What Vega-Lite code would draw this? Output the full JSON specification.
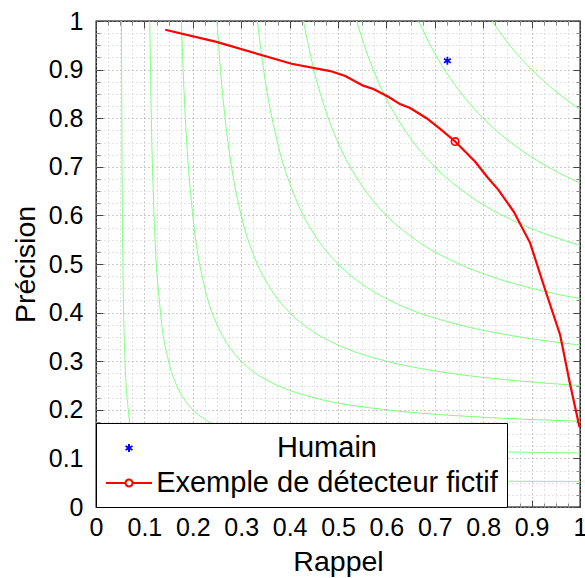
{
  "$schema": "https://vega.github.io/schema/vega-lite/v6.json",
  "autosize": "none",
  "width": 484,
  "height": 486,
  "padding": {"left": 96, "top": 21, "right": 5, "bottom": 71},
  "background": "white",
  "config": {
    "view": {"stroke": "black", "strokeWidth": 1.3},
    "font": "Liberation Sans"
  },
  "datasets": {
    "iso": [
      {"F": 0.1, "R": 0.05263, "P": 1}, {"F": 0.1, "R": 0.05385, "P": 0.7}, {"F": 0.1, "R": 0.05556, "P": 0.5}, {"F": 0.1, "R": 0.06, "P": 0.3}, {"F": 0.1, "R": 0.06667, "P": 0.2}, {"F": 0.1, "R": 0.075, "P": 0.15}, {"F": 0.1, "R": 0.08333, "P": 0.125}, {"F": 0.1, "R": 0.09167, "P": 0.11}, {"F": 0.1, "R": 0.1, "P": 0.1}, {"F": 0.1, "R": 0.11, "P": 0.09167}, {"F": 0.1, "R": 0.125, "P": 0.08333}, {"F": 0.1, "R": 0.15, "P": 0.075}, {"F": 0.1, "R": 0.2, "P": 0.06667}, {"F": 0.1, "R": 0.3, "P": 0.06}, {"F": 0.1, "R": 0.5, "P": 0.05556}, {"F": 0.1, "R": 0.7, "P": 0.05385}, {"F": 0.1, "R": 1, "P": 0.05263},
      {"F": 0.2, "R": 0.11111, "P": 1}, {"F": 0.2, "R": 0.11429, "P": 0.8}, {"F": 0.2, "R": 0.12, "P": 0.6}, {"F": 0.2, "R": 0.13333, "P": 0.4}, {"F": 0.2, "R": 0.15, "P": 0.3}, {"F": 0.2, "R": 0.16667, "P": 0.25}, {"F": 0.2, "R": 0.18333, "P": 0.22}, {"F": 0.2, "R": 0.2, "P": 0.2}, {"F": 0.2, "R": 0.22, "P": 0.18333}, {"F": 0.2, "R": 0.25, "P": 0.16667}, {"F": 0.2, "R": 0.3, "P": 0.15}, {"F": 0.2, "R": 0.4, "P": 0.13333}, {"F": 0.2, "R": 0.6, "P": 0.12}, {"F": 0.2, "R": 0.8, "P": 0.11429}, {"F": 0.2, "R": 1, "P": 0.11111},
      {"F": 0.3, "R": 0.17647, "P": 1}, {"F": 0.3, "R": 0.18, "P": 0.9}, {"F": 0.3, "R": 0.1875, "P": 0.75}, {"F": 0.3, "R": 0.2, "P": 0.6}, {"F": 0.3, "R": 0.225, "P": 0.45}, {"F": 0.3, "R": 0.25, "P": 0.375}, {"F": 0.3, "R": 0.275, "P": 0.33}, {"F": 0.3, "R": 0.3, "P": 0.3}, {"F": 0.3, "R": 0.33, "P": 0.275}, {"F": 0.3, "R": 0.375, "P": 0.25}, {"F": 0.3, "R": 0.45, "P": 0.225}, {"F": 0.3, "R": 0.6, "P": 0.2}, {"F": 0.3, "R": 0.75, "P": 0.1875}, {"F": 0.3, "R": 0.9, "P": 0.18}, {"F": 0.3, "R": 1, "P": 0.17647},
      {"F": 0.4, "R": 0.25, "P": 1}, {"F": 0.4, "R": 0.25714, "P": 0.9}, {"F": 0.4, "R": 0.26667, "P": 0.8}, {"F": 0.4, "R": 0.28, "P": 0.7}, {"F": 0.4, "R": 0.3, "P": 0.6}, {"F": 0.4, "R": 0.33333, "P": 0.5}, {"F": 0.4, "R": 0.36667, "P": 0.44}, {"F": 0.4, "R": 0.4, "P": 0.4}, {"F": 0.4, "R": 0.44, "P": 0.36667}, {"F": 0.4, "R": 0.5, "P": 0.33333}, {"F": 0.4, "R": 0.6, "P": 0.3}, {"F": 0.4, "R": 0.7, "P": 0.28}, {"F": 0.4, "R": 0.8, "P": 0.26667}, {"F": 0.4, "R": 0.9, "P": 0.25714}, {"F": 0.4, "R": 1, "P": 0.25},
      {"F": 0.5, "R": 0.33333, "P": 1}, {"F": 0.5, "R": 0.35, "P": 0.875}, {"F": 0.5, "R": 0.375, "P": 0.75}, {"F": 0.5, "R": 0.41667, "P": 0.625}, {"F": 0.5, "R": 0.45833, "P": 0.55}, {"F": 0.5, "R": 0.5, "P": 0.5}, {"F": 0.5, "R": 0.55, "P": 0.45833}, {"F": 0.5, "R": 0.625, "P": 0.41667}, {"F": 0.5, "R": 0.75, "P": 0.375}, {"F": 0.5, "R": 0.875, "P": 0.35}, {"F": 0.5, "R": 1, "P": 0.33333},
      {"F": 0.6, "R": 0.42857, "P": 1}, {"F": 0.6, "R": 0.45, "P": 0.9}, {"F": 0.6, "R": 0.47143, "P": 0.825}, {"F": 0.6, "R": 0.5, "P": 0.75}, {"F": 0.6, "R": 0.55, "P": 0.66}, {"F": 0.6, "R": 0.6, "P": 0.6}, {"F": 0.6, "R": 0.66, "P": 0.55}, {"F": 0.6, "R": 0.75, "P": 0.5}, {"F": 0.6, "R": 0.825, "P": 0.47143}, {"F": 0.6, "R": 0.9, "P": 0.45}, {"F": 0.6, "R": 1, "P": 0.42857},
      {"F": 0.7, "R": 0.53846, "P": 1}, {"F": 0.7, "R": 0.55763, "P": 0.94}, {"F": 0.7, "R": 0.58333, "P": 0.875}, {"F": 0.7, "R": 0.64167, "P": 0.77}, {"F": 0.7, "R": 0.7, "P": 0.7}, {"F": 0.7, "R": 0.77, "P": 0.64167}, {"F": 0.7, "R": 0.875, "P": 0.58333}, {"F": 0.7, "R": 0.94, "P": 0.55763}, {"F": 0.7, "R": 1, "P": 0.53846},
      {"F": 0.8, "R": 0.66667, "P": 1}, {"F": 0.8, "R": 0.6963, "P": 0.94}, {"F": 0.8, "R": 0.73333, "P": 0.88}, {"F": 0.8, "R": 0.76364, "P": 0.84}, {"F": 0.8, "R": 0.8, "P": 0.8}, {"F": 0.8, "R": 0.84, "P": 0.76364}, {"F": 0.8, "R": 0.88, "P": 0.73333}, {"F": 0.8, "R": 0.94, "P": 0.6963}, {"F": 0.8, "R": 1, "P": 0.66667},
      {"F": 0.9, "R": 0.81818, "P": 1}, {"F": 0.9, "R": 0.84706, "P": 0.96}, {"F": 0.9, "R": 0.87188, "P": 0.93}, {"F": 0.9, "R": 0.9, "P": 0.9}, {"F": 0.9, "R": 0.93, "P": 0.87188}, {"F": 0.9, "R": 0.96, "P": 0.84706}, {"F": 0.9, "R": 1, "P": 0.81818}
    ],
    "det": [
      {"R": 0.143, "P": 0.982}, {"R": 0.249, "P": 0.957}, {"R": 0.404, "P": 0.912}, {"R": 0.484, "P": 0.897}, {"R": 0.515, "P": 0.887}, {"R": 0.552, "P": 0.867}, {"R": 0.573, "P": 0.86}, {"R": 0.604, "P": 0.844}, {"R": 0.628, "P": 0.829}, {"R": 0.649, "P": 0.821}, {"R": 0.683, "P": 0.8}, {"R": 0.711, "P": 0.778}, {"R": 0.742, "P": 0.752}, {"R": 0.783, "P": 0.711}, {"R": 0.81, "P": 0.677}, {"R": 0.831, "P": 0.653}, {"R": 0.863, "P": 0.608}, {"R": 0.897, "P": 0.543}, {"R": 0.928, "P": 0.447}, {"R": 0.959, "P": 0.354}, {"R": 0.979, "P": 0.255}, {"R": 0.999, "P": 0.164}
    ],
    "humain": [{"R": 0.726, "P": 0.918}],
    "marqueur": [{"R": 0.742, "P": 0.752}],
    "series": [{"serie": "Humain"}, {"serie": "Exemple de détecteur fictif"}]
  },
  "layer": [
    {
      "data": {"name": "iso"},
      "mark": {"type": "line", "color": "#7fff7f", "strokeWidth": 1, "interpolate": "monotone"},
      "encoding": {
        "x": {
          "field": "R", "type": "quantitative",
          "scale": {"domain": [0, 1], "nice": false, "zero": false},
          "axis": {
            "orient": "bottom",
            "values": [0,0.025,0.05,0.075,0.1,0.125,0.15,0.175,0.2,0.225,0.25,0.275,0.3,0.325,0.35,0.375,0.4,0.425,0.45,0.475,0.5,0.525,0.55,0.575,0.6,0.625,0.65,0.675,0.7,0.725,0.75,0.775,0.8,0.825,0.85,0.875,0.9,0.925,0.95,0.975,1],
            "labelExpr": "abs(datum.value*10-round(datum.value*10))<0.001 ? format(datum.value,'.1~f') : ''",
            "labelFont": "Liberation Sans", "labelFontSize": 25, "labelColor": "black",
            "labelPadding": 15, "labelOverlap": false, "labelFlush": false, "labelBound": false,
            "tickSize": {"condition": {"test": "abs(datum.value*10-round(datum.value*10))<0.001", "value": -7}, "value": -4},
            "tickColor": {"condition": {"test": "abs(datum.value*10-round(datum.value*10))<0.001", "value": "#444444"}, "value": "#8a8a8a"},
            "tickWidth": 1,
            "grid": true, "gridDash": [1, 3], "gridWidth": 1,
            "gridColor": {"condition": {"test": "abs(datum.value*10-round(datum.value*10))<0.001", "value": "#9a9a9a"}, "value": "#c8c8c8"},
            "domain": false,
            "title": "Rappel", "titleFont": "Liberation Sans", "titleFontSize": 28.5, "titleFontWeight": "normal", "titleColor": "black", "titlePadding": 4,
            "zindex": 0
          }
        },
        "y": {
          "field": "P", "type": "quantitative",
          "scale": {"domain": [0, 1], "nice": false, "zero": false},
          "axis": {
            "orient": "left",
            "values": [0,0.025,0.05,0.075,0.1,0.125,0.15,0.175,0.2,0.225,0.25,0.275,0.3,0.325,0.35,0.375,0.4,0.425,0.45,0.475,0.5,0.525,0.55,0.575,0.6,0.625,0.65,0.675,0.7,0.725,0.75,0.775,0.8,0.825,0.85,0.875,0.9,0.925,0.95,0.975,1],
            "labelExpr": "abs(datum.value*10-round(datum.value*10))<0.001 ? format(datum.value,'.1~f') : ''",
            "labelFont": "Liberation Sans", "labelFontSize": 25, "labelColor": "black",
            "labelPadding": 20, "labelOverlap": false, "labelFlush": false, "labelBound": false,
            "tickSize": {"condition": {"test": "abs(datum.value*10-round(datum.value*10))<0.001", "value": -7}, "value": -4},
            "tickColor": {"condition": {"test": "abs(datum.value*10-round(datum.value*10))<0.001", "value": "#444444"}, "value": "#8a8a8a"},
            "tickWidth": 1,
            "grid": true, "gridDash": [1, 3], "gridWidth": 1,
            "gridColor": {"condition": {"test": "abs(datum.value*10-round(datum.value*10))<0.001", "value": "#9a9a9a"}, "value": "#c8c8c8"},
            "domain": false,
            "title": "Précision", "titleFont": "Liberation Sans", "titleFontSize": 28.5, "titleFontWeight": "normal", "titleColor": "black", "titlePadding": 8,
            "zindex": 0
          }
        },
        "detail": {"field": "F", "type": "nominal"}
      }
    },
    {
      "data": {"name": "det"},
      "mark": {"type": "line", "color": "#ff0000", "strokeWidth": 2.2},
      "encoding": {
        "x": {
          "field": "R", "type": "quantitative",
          "scale": {"domain": [0, 1], "nice": false, "zero": false},
          "axis": {
            "orient": "top",
            "values": [0,0.025,0.05,0.075,0.1,0.125,0.15,0.175,0.2,0.225,0.25,0.275,0.3,0.325,0.35,0.375,0.4,0.425,0.45,0.475,0.5,0.525,0.55,0.575,0.6,0.625,0.65,0.675,0.7,0.725,0.75,0.775,0.8,0.825,0.85,0.875,0.9,0.925,0.95,0.975,1],
            "labels": false, "grid": false, "domain": false, "title": null,
            "tickSize": {"condition": {"test": "abs(datum.value*10-round(datum.value*10))<0.001", "value": -7}, "value": -4},
            "tickColor": {"condition": {"test": "abs(datum.value*10-round(datum.value*10))<0.001", "value": "#444444"}, "value": "#8a8a8a"},
            "tickWidth": 1, "zindex": 0
          }
        },
        "y": {
          "field": "P", "type": "quantitative",
          "scale": {"domain": [0, 1], "nice": false, "zero": false},
          "axis": {
            "orient": "right",
            "values": [0,0.025,0.05,0.075,0.1,0.125,0.15,0.175,0.2,0.225,0.25,0.275,0.3,0.325,0.35,0.375,0.4,0.425,0.45,0.475,0.5,0.525,0.55,0.575,0.6,0.625,0.65,0.675,0.7,0.725,0.75,0.775,0.8,0.825,0.85,0.875,0.9,0.925,0.95,0.975,1],
            "labels": false, "grid": false, "domain": false, "title": null,
            "tickSize": {"condition": {"test": "abs(datum.value*10-round(datum.value*10))<0.001", "value": -7}, "value": -4},
            "tickColor": {"condition": {"test": "abs(datum.value*10-round(datum.value*10))<0.001", "value": "#444444"}, "value": "#8a8a8a"},
            "tickWidth": 1, "zindex": 0
          }
        }
      }
    },
    {
      "data": {"name": "humain"},
      "mark": {"type": "point", "filled": false, "size": 64, "strokeWidth": 1.7, "opacity": 1, "color": "#0000ff", "shape": "M0,-1L0,1M-0.866,-0.5L0.866,0.5M-0.866,0.5L0.866,-0.5"},
      "encoding": {
        "x": {"field": "R", "type": "quantitative", "scale": {"domain": [0, 1], "nice": false, "zero": false}, "axis": null},
        "y": {"field": "P", "type": "quantitative", "scale": {"domain": [0, 1], "nice": false, "zero": false}, "axis": null}
      }
    },
    {
      "data": {"name": "marqueur"},
      "mark": {"type": "point", "filled": false, "size": 56, "strokeWidth": 1.7, "opacity": 1, "color": "#ff0000", "shape": "circle"},
      "encoding": {
        "x": {"field": "R", "type": "quantitative", "scale": {"domain": [0, 1], "nice": false, "zero": false}, "axis": null},
        "y": {"field": "P", "type": "quantitative", "scale": {"domain": [0, 1], "nice": false, "zero": false}, "axis": null}
      }
    },
    {
      "data": {"name": "series"},
      "mark": {"type": "point", "filled": false, "size": 0, "strokeWidth": 2, "opacity": 1},
      "encoding": {
        "shape": {
          "field": "serie", "type": "nominal",
          "scale": {"domain": ["Humain", "Exemple de détecteur fictif"], "range": ["M0,-0.267L0,0.267M-0.231,-0.133L0.231,0.133M-0.231,0.133L0.231,-0.133", "M-1.533,0L-0.233,0M0.233,0L1.533,0M0.233,0A0.233,0.233 0 1,1 -0.233,0A0.233,0.233 0 1,1 0.233,0"]},
          "legend": {
            "orient": "bottom-left", "offset": 0, "title": null,
            "fillColor": "white", "strokeColor": "black", "padding": 9,
            "labelFont": "Liberation Sans", "labelFontSize": 29, "labelColor": "black",
            "labelAlign": "center", "labelOffset": 182, "labelLimit": 1000,
            "symbolSize": 900, "symbolStrokeWidth": 2, "symbolOffset": 8, "rowPadding": 4
          }
        },
        "color": {
          "field": "serie", "type": "nominal",
          "scale": {"domain": ["Humain", "Exemple de détecteur fictif"], "range": ["#0000ff", "#ff0000"]},
          "legend": {
            "orient": "bottom-left", "offset": 0, "title": null,
            "fillColor": "white", "strokeColor": "black", "padding": 9,
            "labelFont": "Liberation Sans", "labelFontSize": 29, "labelColor": "black",
            "labelAlign": "center", "labelOffset": 182, "labelLimit": 1000,
            "symbolSize": 900, "symbolStrokeWidth": 2, "symbolOffset": 8, "rowPadding": 4
          }
        }
      }
    }
  ],
  "resolve": {"axis": {"x": "independent", "y": "independent"}}
}
